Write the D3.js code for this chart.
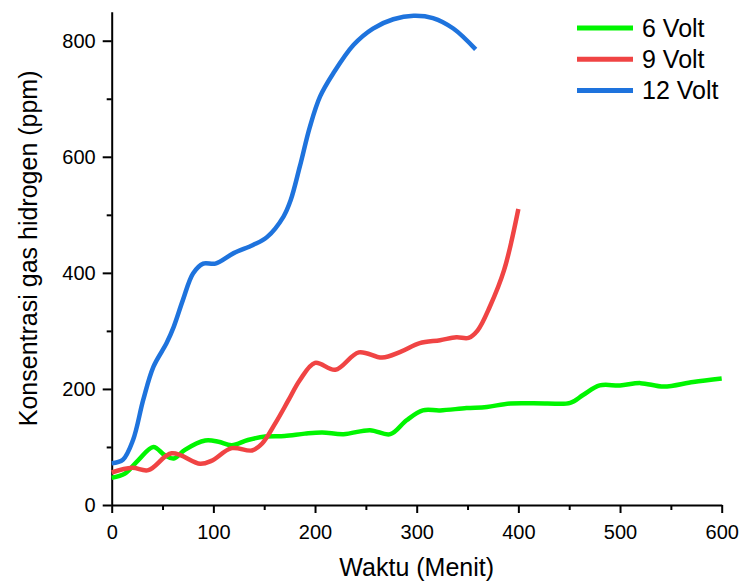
<!DOCTYPE html>
<html>
<head>
<meta charset="utf-8">
<script src="https://cdn.jsdelivr.net/npm/d3@7"></script>
<style>
  html, body { margin: 0; padding: 0; background: #fff; }
  svg { display: block; font-family: Arial, "Liberation Sans", sans-serif; }
</style>
</head>
<body>
<svg id="chart" width="741" height="582"></svg>
<script>
// Hydrogen gas concentration over time for three electrolysis voltages
const seriesNames = ["6 Volt", "9 Volt", "12 Volt"];
const seriesColors = ["#00f500", "#f04444", "#1e73dd"];

const time6 = [0, 13, 26, 41, 52, 61, 72, 92, 105, 118, 134, 151, 170, 190, 207, 228, 254, 274, 290, 306, 323, 349, 369, 392, 428, 451, 464, 480, 500, 520, 543, 572, 600];
const volt6 = [47, 54, 77, 100, 86, 80, 95, 111, 109, 103, 112, 118, 119, 123, 125, 122, 129, 122, 146, 163, 163, 167, 169, 175, 175, 176, 190, 206, 206, 210, 204, 212, 218];

const time9 = [0, 20, 36, 59, 87, 98, 118, 138, 148, 161, 174, 185, 200, 220, 243, 266, 284, 303, 323, 339, 351, 360, 372, 386, 400];
const volt9 = [56, 64, 60, 89, 71, 76, 98, 94, 106, 141, 181, 215, 245, 233, 263, 254, 264, 279, 284, 289, 288, 301, 342, 405, 510];

const time12 = [0, 11, 21, 31, 41, 54, 61, 70, 80, 90, 102, 120, 139, 153, 169, 176, 185, 195, 205, 218, 238, 257, 277, 297, 316, 336, 358];
const volt12 = [72, 78, 112, 181, 238, 279, 307, 353, 399, 416, 416, 434, 448, 462, 497, 525, 583, 652, 704, 744, 793, 821, 837, 843, 839, 821, 785];

const xTicks = [0, 100, 200, 300, 400, 500, 600];
const xMinorTicks = [50, 150, 250, 350, 450, 550];
const yTicks = [0, 200, 400, 600, 800];
const yMinorTicks = [100, 300, 500, 700];

const xLabel = "Waktu (Menit)";
const yLabel = "Konsentrasi gas hidrogen (ppm)";

const svg = d3.select("#chart");
const margin = { left: 111.7, right: 19.3, top: 11.7, bottom: 77 };
const W = 741, H = 582;

const x = d3.scaleLinear().domain([0, 600]).range([margin.left, W - margin.right]);
const y = d3.scaleLinear().domain([0, 850]).range([H - margin.bottom, margin.top]);

// minor ticks
svg.append("g")
  .attr("transform", `translate(0,${y(0)})`)
  .call(d3.axisBottom(x).tickValues(xMinorTicks).tickSize(5).tickSizeOuter(0).tickFormat(""))
  .call(g => g.select(".domain").remove())
  .call(g => g.selectAll("line").attr("stroke", "#000").attr("stroke-width", 2));
svg.append("g")
  .attr("transform", `translate(${x(0)},0)`)
  .call(d3.axisLeft(y).tickValues(yMinorTicks).tickSize(5).tickSizeOuter(0).tickFormat(""))
  .call(g => g.select(".domain").remove())
  .call(g => g.selectAll("line").attr("stroke", "#000").attr("stroke-width", 2));

// major axes
const xAxis = svg.append("g")
  .attr("transform", `translate(0,${y(0)})`)
  .call(d3.axisBottom(x).tickValues(xTicks).tickSize(8).tickSizeOuter(0).tickPadding(12).tickFormat(d3.format("d")));
const yAxis = svg.append("g")
  .attr("transform", `translate(${x(0)},0)`)
  .call(d3.axisLeft(y).tickValues(yTicks).tickSize(9).tickSizeOuter(0).tickPadding(7).tickFormat(d3.format("d")));

[xAxis, yAxis].forEach(g => {
  g.select(".domain").attr("stroke", "#000").attr("stroke-width", 2);
  g.selectAll(".tick line").attr("stroke", "#000").attr("stroke-width", 2);
  g.selectAll(".tick text").attr("fill", "#000").style("font-size", "20px")
    .style("font-family", "Arial, 'Liberation Sans', sans-serif");
});

// axis titles
svg.append("text")
  .attr("x", (x(0) + x(600)) / 2)
  .attr("y", 576)
  .attr("text-anchor", "middle")
  .style("font-size", "25px")
  .text(xLabel);
svg.append("text")
  .attr("transform", `translate(37,${(y(0) + y(850)) / 2 - 10}) rotate(-90)`)
  .attr("text-anchor", "middle")
  .style("font-size", "25px")
  .text(yLabel);

// curves
const series = [
  { name: seriesNames[0], color: seriesColors[0], t: time6, v: volt6 },
  { name: seriesNames[1], color: seriesColors[1], t: time9, v: volt9 },
  { name: seriesNames[2], color: seriesColors[2], t: time12, v: volt12 }
];

const line = d3.line()
  .x(d => x(d[0]))
  .y(d => y(d[1]))
  .curve(d3.curveCatmullRom.alpha(0.5));

svg.append("g").selectAll("path")
  .data(series)
  .join("path")
  .attr("d", s => line(s.t.map((t, i) => [t, s.v[i]])))
  .attr("fill", "none")
  .attr("stroke", s => s.color)
  .attr("stroke-width", 4.5)
  .attr("stroke-linejoin", "round");

// legend
const legend = svg.append("g").attr("transform", "translate(577,28)");
const item = legend.selectAll("g")
  .data(series)
  .join("g")
  .attr("transform", (d, i) => `translate(0,${i * 31.3})`);
item.append("line")
  .attr("x1", 0).attr("x2", 56)
  .attr("stroke", d => d.color)
  .attr("stroke-width", 5);
item.append("text")
  .attr("x", 65)
  .attr("y", 0)
  .attr("dy", "0.35em")
  .style("font-size", "25px")
  .text(d => d.name);
</script>
</body>
</html>
